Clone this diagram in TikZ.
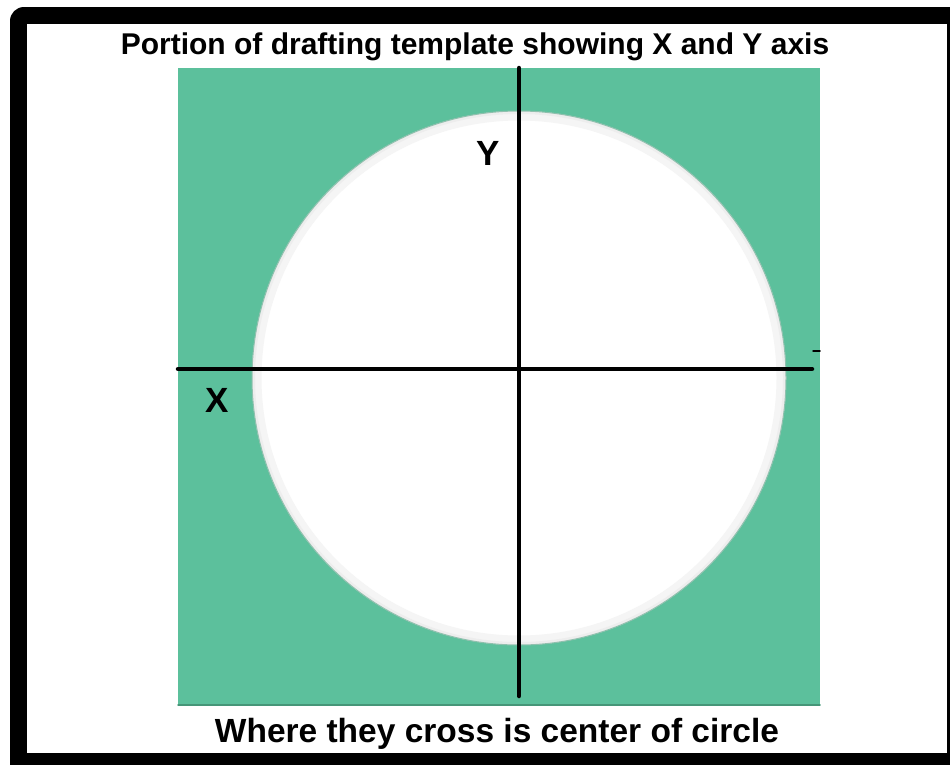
\documentclass[tikz,border=0pt]{standalone}
\usepackage{fontspec}
\setmainfont{Liberation Sans}
\definecolor{templateG}{RGB}{92,192,156}
\definecolor{edgeG}{RGB}{70,150,120}

\begin{document}
\begin{tikzpicture}[x=1pt, y=-1pt, line cap=round,
  axis/.style={line width=4.5pt, black},
  caption/.style={anchor=base, font=\bfseries\fontsize{30}{32}\selectfont},
  footcap/.style={anchor=base, font=\bfseries\fontsize{33.5}{36}\selectfont},
  letter/.style={anchor=base, font=\bfseries\fontsize{35}{38}\selectfont}]
\useasboundingbox (0,0) rectangle (950,764);
% frame
\fill[black, rounded corners=14pt] (10,7) rectangle (975,790);
\fill[white] (27,24) rectangle (947,753);
% template with hole
\fill[templateG] (178,68) rectangle (820,706);
\draw[edgeG, line width=1.5pt] (178,705) -- (820,705);
\coordinate (ctr) at (519,378);
\fill[white] (ctr) circle (267);
\draw[gray!8, line width=9pt] (ctr) circle (262);
\draw[gray!14, line width=3pt] (ctr) circle (265.5);
\draw[edgeG!60, line width=1pt] (ctr) circle (267);
% axes
\coordinate (xl) at (178,369);
\coordinate (xr) at (812,369);
\coordinate (yt) at (519,68);
\coordinate (yb) at (519,696);
\draw[axis] (xl) -- (xr);
\draw[axis] (yt) -- (yb);
\coordinate (tk1) at (813,351);
\coordinate (tk2) at (820,351);
\draw[black, line width=1.5pt] (tk1) -- (tk2);
% labels
\node[letter] (ylab) at (488,165) {Y};
\node[letter] (xlab) at (217,412) {X};
\node[caption] (title) at (475,54) {Portion of drafting template showing X and Y axis};
\node[footcap] (foot) at (497,742) {Where they cross is center of circle};
\end{tikzpicture}
\end{document}
